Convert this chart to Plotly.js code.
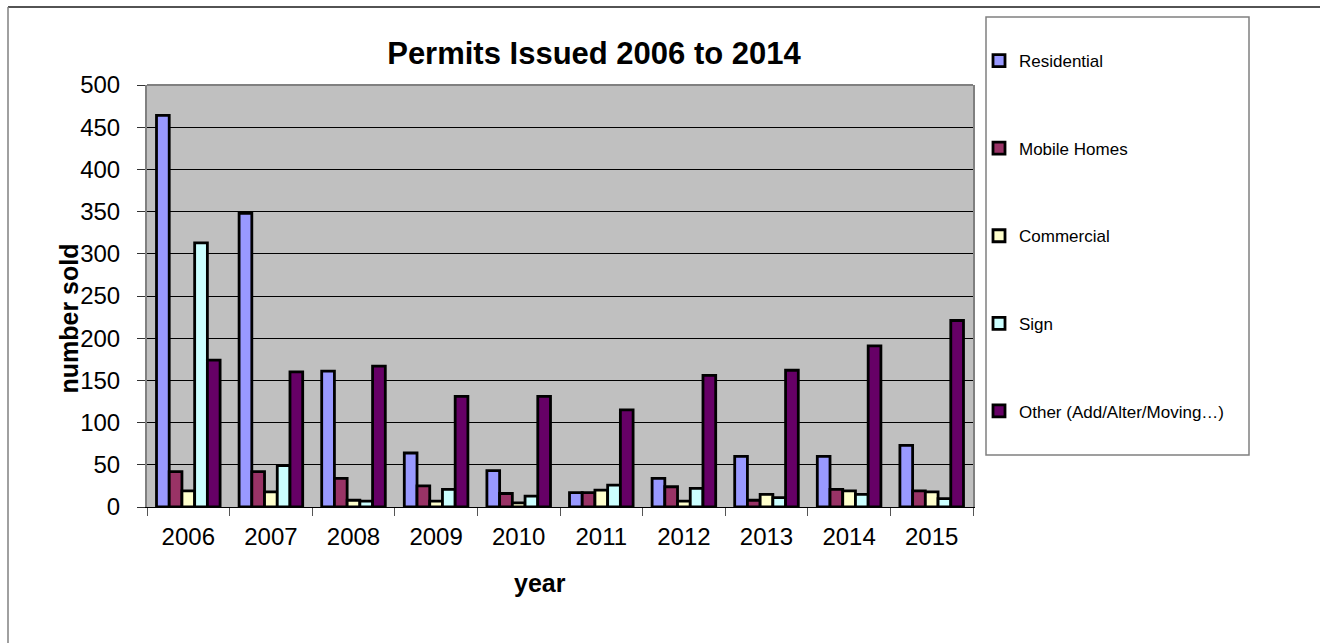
<!DOCTYPE html>
<html>
<head>
<meta charset="utf-8">
<script src="https://cdn.plot.ly/plotly-3.0.1.min.js"></script>
<style>
  html, body { margin: 0; padding: 0; background: #fff; }
  #chart { width: 1320px; height: 643px; }
</style>
</head>
<body>
<div id="chart"></div>
<script>
const years = ['2006', '2007', '2008', '2009', '2010', '2011', '2012', '2013', '2014', '2015'];
const residential = [464, 348, 161, 64, 43, 17, 34, 60, 60, 73];
const mobileHomes = [42, 42, 34, 25, 16, 17, 24, 8, 21, 19];
const commercial = [19, 18, 8, 7, 5, 20, 7, 15, 19, 18];
const sign = [313, 49, 7, 21, 13, 26, 22, 11, 15, 10];
const other = [174, 160, 167, 131, 131, 115, 156, 162, 191, 221];
const seriesNames = ['Residential', 'Mobile Homes', 'Commercial', 'Sign', 'Other (Add/Alter/Moving\u2026)'];
const seriesColors = ['#9999FF', '#993366', '#FFFFCC', '#CCFFFF', '#660066'];
const seriesValues = [residential, mobileHomes, commercial, sign, other];
const yTicks = [0, 50, 100, 150, 200, 250, 300, 350, 400, 450, 500];

const FONT = 'Arial, "Liberation Sans", sans-serif';

const traces = seriesValues.map((vals, i) => ({
  type: 'bar',
  name: seriesNames[i],
  x: years,
  y: vals,
  legendgroup: 'g' + i,
  marker: { color: seriesColors[i], line: { color: '#000000', width: 2.8 } },
  hoverinfo: 'x+y+name'
}));

// plot area in pixels: x 147..973, y 85..507
const L = 147, R = 973, T = 85, B = 507;
const px = v => (v - L) / (R - L);
const py = v => (B - v) / (B - T);

const layout = {
  width: 1320,
  height: 643,
  margin: { l: L, r: 1320 - R, t: T, b: 643 - B, pad: 0 },
  paper_bgcolor: '#ffffff',
  plot_bgcolor: '#C0C0C0',
  font: { family: FONT, color: '#000000' },
  title: {
    text: '<b>Permits Issued 2006 to 2014</b>',
    font: { family: FONT, size: 31, color: '#000000' },
    xref: 'paper', x: px(594), xanchor: 'center',
    yref: 'container', y: 1 - 53 / 643, yanchor: 'middle'
  },
  barmode: 'group',
  bargap: 0.23,
  bargroupgap: 0,
  xaxis: {
    type: 'category',
    categoryorder: 'array',
    categoryarray: years,
    tickvals: years,
    ticktext: years,
    tickfont: { family: FONT, size: 24, color: '#000000' },
    ticks: 'outside',
    tickson: 'boundaries',
    ticklen: 8,
    tickcolor: '#555555',
    ticklabelstandoff: 8,
    showline: true,
    linecolor: '#000000',
    linewidth: 1,
    showgrid: false,
    zeroline: false,
    fixedrange: true
  },
  yaxis: {
    range: [0, 500],
    tickvals: yTicks,
    ticktext: yTicks.map(String),
    tickfont: { family: FONT, size: 24, color: '#000000' },
    ticks: 'outside',
    ticklen: 8,
    tickcolor: '#333333',
    ticklabelstandoff: 12,
    showgrid: true,
    gridcolor: '#000000',
    gridwidth: 1,
    showline: true,
    mirror: true,
    linecolor: '#808080',
    linewidth: 2,
    zeroline: false,
    fixedrange: true
  },
  showlegend: true,
  legend: {
    x: px(979), xanchor: 'left',
    y: py(43), yanchor: 'top',
    bgcolor: 'rgba(0,0,0,0)',
    borderwidth: 0,
    font: { family: FONT, size: 17, color: '#000000' },
    traceorder: 'grouped',
    tracegroupgap: 62.5,
    maxheight: 620,
    itemclick: false,
    itemdoubleclick: false
  },
  annotations: [
    {
      text: '<b>year</b>', xref: 'paper', yref: 'paper',
      x: px(540), y: py(583), xanchor: 'center', yanchor: 'middle',
      showarrow: false, font: { family: FONT, size: 25, color: '#000000' }
    },
    {
      text: '<b>number sold</b>', xref: 'paper', yref: 'paper',
      x: px(68), y: py(318.5), xanchor: 'center', yanchor: 'middle',
      textangle: -90,
      showarrow: false, font: { family: FONT, size: 25, color: '#000000' }
    }
  ],
  shapes: [
    // top border of plot area
    { type: 'line', xref: 'paper', yref: 'paper', x0: 0, x1: 1, y0: 1, y1: 1,
      line: { color: '#808080', width: 2 }, layer: 'above' },
    // legend frame
    { type: 'rect', xref: 'paper', yref: 'paper',
      x0: px(986), x1: px(1249), y0: py(455), y1: py(17),
      line: { color: '#808080', width: 1.5 }, fillcolor: 'rgba(0,0,0,0)', layer: 'below' },
    // outer chart frame (top and left)
    { type: 'line', xref: 'paper', yref: 'paper', x0: px(8), x1: px(1320), y0: py(7), y1: py(7),
      line: { color: '#1a1a1a', width: 1.5 } },
    { type: 'line', xref: 'paper', yref: 'paper', x0: px(8), x1: px(8), y0: py(7), y1: py(643),
      line: { color: '#808080', width: 1.5 } }
  ]
};

Plotly.newPlot('chart', traces, layout, { displayModeBar: false, staticPlot: false, responsive: false });
</script>
</body>
</html>
